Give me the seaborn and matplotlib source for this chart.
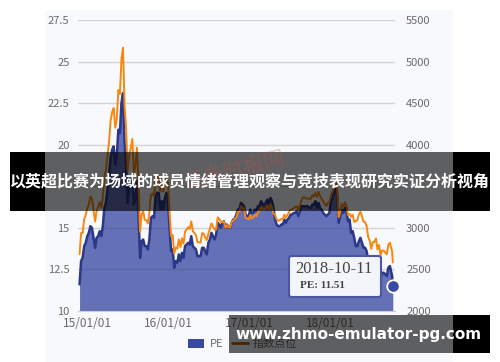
import numpy as np
import pandas as pd
import matplotlib
matplotlib.use("Agg")
import matplotlib.pyplot as plt
import matplotlib.dates as mdates
from matplotlib.patches import Rectangle, FancyBboxPatch, Patch
from matplotlib.lines import Line2D
import seaborn as sns

# ---------------- data (weekly readings) ----------------
idx_2014 = [2683, 2938, 2938, 3108, 3158]
pe_2014 = [11.6, 13.0, 13.2, 13.9, 14.1]

idx_2015 = [3235, 3286, 3376, 3351, 3211, 3076, 3204, 3247, 3310, 3242,
            3373, 3617, 3692, 3863, 4034, 4287, 4394, 4441, 4205, 4308,
            4657, 4611, 5023, 5166, 4478, 4192, 3686, 3877, 3957, 4070,
            3664, 3744, 3965, 3508, 2950, 3160, 3200, 3097, 3093, 3053,
            3183, 3391, 3412, 3383, 3590, 3632, 3630, 3436, 3525, 3435,
            3578, 3628]
pe_2015 = [14.5, 14.7, 15.1, 15.0, 14.4, 13.8, 14.4, 14.5, 14.8, 14.5,
           15.1, 16.2, 16.5, 17.3, 18.1, 19.2, 19.7, 19.9, 18.8, 19.3,
           20.9, 20.7, 22.5, 23.1, 20.1, 18.8, 16.5, 17.4, 17.7, 18.2,
           16.4, 16.8, 17.8, 15.7, 13.2, 14.2, 14.3, 13.9, 13.9, 13.7,
           14.3, 15.6, 15.7, 15.6, 16.9, 17.1, 17.1, 16.1, 16.6, 16.1,
           16.8, 17.1]

idx_2016 = [3539, 3186, 2901, 2916, 2690, 2763, 2750, 2861, 2767, 2874,
            2810, 2955, 2979, 3009, 2985, 3078, 2960, 2938, 2913, 2828,
            2826, 2822, 2938, 2927, 2885, 2854, 2932, 2988, 3054, 3012,
            2979, 2976, 3125, 3108, 3070, 3067, 3078, 3002, 3033, 3005,
            3005, 3064, 3091, 3104, 3125, 3196, 3192, 3262, 3243, 3233,
            3123, 3110, 3104]
pe_2016 = [16.6, 15.0, 13.6, 13.7, 12.6, 13.0, 12.9, 13.4, 13.0, 13.5,
           13.2, 13.9, 14.0, 14.1, 14.0, 14.5, 13.9, 13.8, 13.7, 13.3,
           13.3, 13.3, 13.8, 13.8, 13.6, 13.4, 14.1, 14.3, 14.7, 14.5,
           14.3, 14.6, 15.3, 15.2, 15.0, 15.3, 15.4, 15.0, 15.2, 15.0,
           15.0, 15.3, 15.5, 15.5, 15.8, 16.1, 16.1, 16.5, 16.4, 16.3,
           15.8, 15.7, 15.7]

idx_2017 = [3154, 3113, 3123, 3159, 3140, 3197, 3202, 3253, 3218, 3213,
            3237, 3269, 3223, 3287, 3246, 3173, 3155, 3103, 3085, 3091,
            3107, 3105, 3158, 3123, 3158, 3192, 3218, 3222, 3238, 3253,
            3262, 3209, 3268, 3332, 3367, 3365, 3353, 3353, 3349, 3349,
            3391, 3378, 3417, 3372, 3433, 3382, 3353, 3317, 3289, 3266,
            3297, 3307]
pe_2017 = [16.1, 15.9, 15.9, 16.1, 16.0, 16.3, 16.3, 16.6, 16.4, 16.4,
           16.5, 16.7, 16.4, 16.8, 16.6, 16.2, 15.5, 15.2, 15.1, 15.1,
           15.2, 15.2, 15.5, 15.3, 15.5, 15.6, 15.8, 15.8, 15.9, 15.9,
           16.0, 15.7, 16.0, 16.3, 16.3, 16.3, 16.3, 16.3, 16.2, 16.2,
           16.4, 16.4, 16.6, 16.2, 16.5, 16.2, 16.1, 15.9, 15.8, 15.7,
           15.8, 15.9]

idx_2018 = [3391, 3429, 3488, 3558, 3462, 3129, 3199, 3289, 3254, 3307,
            3269, 3153, 3169, 3131, 3159, 3071, 3082, 3091, 3163, 3193,
            3141, 3075, 3067, 3022, 2889, 2847, 2747, 2831, 2829, 2873,
            2741, 2795, 2669, 2730, 2725, 2702, 2682, 2797, 2821]
pe_2018 = [16.6, 16.8, 17.1, 17.4, 17.0, 15.3, 15.7, 16.1, 15.9, 16.2,
           16.0, 15.4, 15.5, 14.7, 14.8, 14.4, 13.9, 13.9, 14.2, 14.4,
           14.1, 13.8, 13.8, 13.6, 13.0, 12.8, 12.4, 12.7, 12.7, 12.9,
           12.3, 12.6, 12.0, 12.3, 12.3, 12.2, 12.1, 12.6, 12.7]

tail_dates = ["2018-10-08", "2018-10-11"]
idx_tail = [2716, 2583]
pe_tail = [12.1, 11.51]

# labels hidden beneath the title banner in the reference are left blank
left_ticks = [10, 12.5, 15, 17.5, 20, 22.5, 25, 27.5]
left_tick_labels = ["10", "12.5", "15", "", "20", "22.5", "25", "27.5"]
right_ticks = [2000, 2500, 3000, 3500, 4000, 4500, 5000, 5500]
right_tick_labels = ["2000", "2500", "3000", "", "4000", "4500", "5000", "5500"]
series_labels = ["PE", "指数点位"]
banner_title = "以英超比赛为场域的球员情绪管理观察与竞技表现研究实证分析视角"
banner_url = "www.zhmo-emulator-pg.com"
watermark = "证券时报网"

# ---------------- build frame ----------------
dates = (list(pd.date_range("2014-11-28", "2014-12-26", freq="W-FRI"))
         + list(pd.date_range("2015-01-02", "2015-12-25", freq="W-FRI"))
         + list(pd.date_range("2016-01-01", "2016-12-30", freq="W-FRI"))
         + list(pd.date_range("2017-01-06", "2017-12-29", freq="W-FRI"))
         + list(pd.date_range("2018-01-05", "2018-09-28", freq="W-FRI"))
         + list(pd.to_datetime(tail_dates)))
pe = pe_2014 + pe_2015 + pe_2016 + pe_2017 + pe_2018 + pe_tail
idx = idx_2014 + idx_2015 + idx_2016 + idx_2017 + idx_2018 + idx_tail
df = pd.DataFrame({"date": dates, "pe": pe, "idx": idx})

# ---------------- style ----------------
sns.set_style("white")
plt.rcParams["font.family"] = ["Noto Sans CJK SC", "DejaVu Sans"]

W, H = 500, 362
fig = plt.figure(figsize=(W / 100, H / 100), dpi=100)

def fx(px):
    return px / W

def fy(py):
    return 1 - py / H

# chart panel background
fig.patches.append(Rectangle((fx(45), 0), fx(453) - fx(45), fy(10), transform=fig.transFigure,
                             facecolor="#f8f9fc", edgecolor="none", zorder=-5))

ax = fig.add_axes([fx(78), fy(311), fx(395) - fx(78), fy(20) - fy(311)])
ax.set_facecolor("none")
ax.set_axisbelow(True)
ax.yaxis.grid(True, color="#d3d3d3", lw=1.0)
ax.xaxis.grid(False)

ax.fill_between(df["date"], df["pe"], 10, color="#2d3c9b", alpha=0.72, lw=0, zorder=2)
sns.lineplot(data=df, x="date", y="pe", ax=ax, color="#2b3788", lw=1.8, zorder=3)
ax.set_ylim(10, 27.5)
ax.set_yticks(left_ticks)
ax.set_yticklabels(left_tick_labels)

ax2 = ax.twinx()
ax2.set_facecolor("none")
sns.lineplot(data=df, x="date", y="idx", ax=ax2, color="#f7870e", lw=1.4)
ax2.set_ylim(2000, 5500)
ax2.set_yticks(right_ticks)
ax2.set_yticklabels(right_tick_labels)

ax.set_xlim(pd.Timestamp("2014-11-21"), pd.Timestamp("2018-10-21"))
ax.xaxis.set_major_locator(mdates.YearLocator())
ax.xaxis.set_major_formatter(mdates.DateFormatter("%y/%m/%d"))

for a in (ax, ax2):
    a.set_xlabel("")
    a.set_ylabel("")
    for s in a.spines.values():
        s.set_visible(False)
ax.spines["bottom"].set_visible(True)
ax.spines["bottom"].set_color("#cfcfcf")
ax.spines["bottom"].set_linewidth(0.8)

ax.tick_params(axis="y", length=0, labelsize=8, labelcolor="#6a6a6a", pad=6)
ax2.tick_params(axis="y", length=0, labelsize=8, labelcolor="#6a6a6a", pad=8)
ax.tick_params(axis="x", length=4, width=0.8, color="#cfcfcf", labelsize=8.5,
               labelcolor="#6a6a6a", pad=0)

# highlighted last point
ax.plot([df["date"].iloc[-1]], [df["pe"].iloc[-1]], "o", ms=9, mfc="#3a4aa2",
        mec="white", mew=1.3, zorder=6, clip_on=False)

# tooltip
fig.patches.append(FancyBboxPatch((fx(289), fy(297)), fx(381) - fx(289), fy(256) - fy(297),
                                  boxstyle="round,pad=0,rounding_size=0.006",
                                  transform=fig.transFigure, facecolor="#f4f5fb",
                                  edgecolor="#4a56a6", lw=1.5, zorder=5))
fig.text(fx(334), fy(269), df["date"].iloc[-1].strftime("%Y-%m-%d"), ha="center", va="center",
         fontsize=12, color="#444444", family="Liberation Serif", zorder=6)
fig.text(fx(300), fy(285), f"PE: {df['pe'].iloc[-1]:.2f}", ha="left", va="center",
         fontsize=8, color="#444444", family="Liberation Serif", fontweight="bold", zorder=6)

# legend
handles = [Patch(facecolor="#3a4aa2", edgecolor="none"),
           Line2D([0], [0], color="#b06010", lw=2)]
leg = fig.legend(handles, series_labels, loc="center", bbox_to_anchor=(fx(243), fy(344)),
                 ncol=2, frameon=False, fontsize=8, handlelength=1.4, handleheight=0.9,
                 columnspacing=0.8, handletextpad=0.5)
for t in leg.get_texts():
    t.set_color("#6a6a6a")

# overlay banner (title)
fig.patches.append(Rectangle((fx(10), fy(211)), fx(45) - fx(10), fy(152) - fy(211),
                             transform=fig.transFigure, facecolor="black", edgecolor="none", zorder=10))
fig.patches.append(Rectangle((fx(453), fy(211)), fx(490) - fx(453), fy(152) - fy(211),
                             transform=fig.transFigure, facecolor="black", edgecolor="none", zorder=10))
fig.patches.append(Rectangle((fx(45), fy(211)), fx(453) - fx(45), fy(152) - fy(211),
                             transform=fig.transFigure, facecolor="black", alpha=0.62,
                             edgecolor="none", zorder=10))
fig.text(fx(235), fy(170), watermark, rotation=14, ha="center", va="center", fontsize=15,
         color="#c8504a", alpha=0.3, zorder=11)
fig.text(fx(250), fy(182), banner_title, ha="center", va="center", fontsize=11.5,
         color="white", fontweight="bold", zorder=12)

# overlay banner (url)
fig.patches.append(Rectangle((fx(453), fy(353)), fx(490) - fx(453), fy(315) - fy(353),
                             transform=fig.transFigure, facecolor="black", edgecolor="none", zorder=10))
fig.patches.append(Rectangle((fx(229), fy(353)), fx(453) - fx(229), fy(315) - fy(353),
                             transform=fig.transFigure, facecolor="black", alpha=0.62,
                             edgecolor="none", zorder=10))
fig.text(fx(359), fy(334), banner_url, ha="center", va="center", fontsize=11,
         color="white", fontweight="bold", family="DejaVu Sans", zorder=12)

fig.savefig("out.png", dpi=100)
